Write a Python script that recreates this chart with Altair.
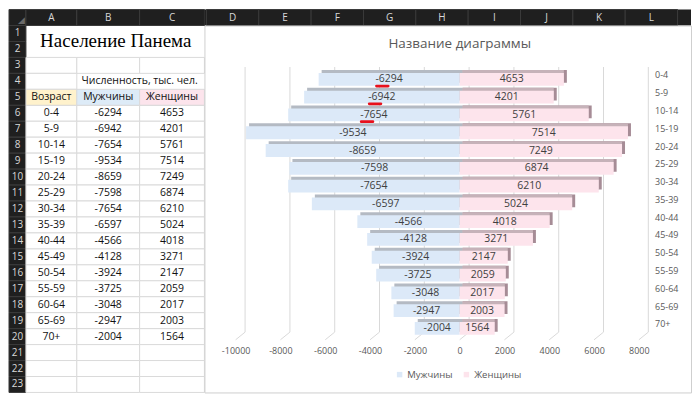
import altair as alt
import pandas as pd

# ---------------- data ----------------
ages = ["0-4", "5-9", "10-14", "15-19", "20-24", "25-29", "30-34", "35-39",
        "40-44", "45-49", "50-54", "55-59", "60-64", "65-69", "70+"]
men = [-6294, -6942, -7654, -9534, -8659, -7598, -7654, -6597,
       -4566, -4128, -3924, -3725, -3048, -2947, -2004]
women = [4653, 4201, 5761, 7514, 7249, 6874, 6210, 5024,
         4018, 3271, 2147, 2059, 2017, 2003, 1564]
series = ["Мужчины", "Женщины"]
x_ticks = [-10000, -8000, -6000, -4000, -2000, 0, 2000, 4000, 6000, 8000]
underlined_ages = ["0-4", "5-9", "10-14"]
sheet_title = "Население Панема"
units_caption = "Численность, тыс. чел."
age_header = "Возраст"
chart_title = "Название диаграммы"
left_letters = ["A", "B", "C"]
right_letters = ["D", "E", "F", "G", "H", "I", "J", "K", "L"]
n_rows = 23
first_data_row = 6

# ---------------- style ----------------
FONT = "Open Sans"
HDR = "#1f1f1f"
HDR_LINE = "#3a3a3a"
HDR_TEXT = "#d8d8d8"
GRID = "#dadada"
INK = "#111111"
CH_TEXT = "#595959"
TOTAL_H = 384
HDR_H = 16
ROWNUM_W = 17
COL_W = {"A": 51, "B": 63, "C": 65}
CHART_W = 684 - ROWNUM_W - sum(COL_W.values())
CHART_H = TOTAL_H - HDR_H

row_keys = ["h"] + [str(i) for i in range(1, n_rows + 1)]
row_y = alt.Y("row:N", scale=alt.Scale(domain=row_keys, paddingInner=0, paddingOuter=0), axis=None)
data_rows = [str(first_data_row + i) for i in range(len(ages))]


def sheet_column(letter, w, blank_rows, head_text, head_fill, values, extra=()):
    hdr = alt.Chart(pd.DataFrame({"row": ["h"], "t": [letter]}))
    cells = [r for r in row_keys[3:] if r not in blank_rows and r != "5"]
    layers = [
        hdr.mark_rect(fill=HDR, stroke=HDR_LINE, strokeWidth=1).encode(
            x=alt.value(0), x2=alt.value(w), y=row_y),
        hdr.mark_text(font=FONT, fontSize=10, color=HDR_TEXT).encode(
            x=alt.value(w / 2), y=row_y, text="t:N"),
        alt.Chart(pd.DataFrame({"row": cells})).mark_rect(
            fill="white", stroke=GRID, strokeWidth=1).encode(
            x=alt.value(0), x2=alt.value(w), y=row_y),
        alt.Chart(pd.DataFrame({"row": ["5"]})).mark_rect(
            fill=head_fill, stroke=GRID, strokeWidth=1).encode(
            x=alt.value(0), x2=alt.value(w), y=row_y),
        alt.Chart(pd.DataFrame({"row": ["5"] + data_rows,
                                "t": [head_text] + [str(v) for v in values]})).mark_text(
            font=FONT, fontSize=10.5, color=INK).encode(
            x=alt.value(w / 2), y=row_y, text="t:N"),
    ]
    layers += list(extra)
    return alt.layer(*layers).properties(width=w, height=TOTAL_H)


# row-number column
rn_df = pd.DataFrame({"row": row_keys, "t": [""] + row_keys[1:]})
rownum = alt.layer(
    alt.Chart(rn_df).mark_rect(fill=HDR, stroke=HDR_LINE, strokeWidth=1).encode(
        x=alt.value(0), x2=alt.value(ROWNUM_W), y=row_y),
    alt.Chart(rn_df).mark_text(font=FONT, fontSize=10, color=HDR_TEXT).encode(
        x=alt.value(ROWNUM_W / 2), y=row_y, text="t:N"),
    alt.Chart(pd.DataFrame({"t": ["◢"]})).mark_text(
        font="DejaVu Sans", fontSize=9, color="#6a6a6a", align="right", baseline="bottom").encode(
        x=alt.value(ROWNUM_W - 1), y=alt.value(HDR_H - 1), text="t:N"),
).properties(width=ROWNUM_W, height=TOTAL_H)

col_a = sheet_column("A", COL_W["A"], ["1", "2"], age_header, "#fff2cc", ages)
col_b = sheet_column(
    "B", COL_W["B"], ["1", "2", "4"], series[0], "#ddebf7", men,
    extra=[
        alt.Chart(pd.DataFrame({"t": [sheet_title]})).mark_text(
            font="Liberation Serif", fontSize=19, color="#000000").encode(
            x=alt.value(39), y=alt.value(32), text="t:N"),
        alt.Chart(pd.DataFrame({"row": ["4"], "t": [units_caption]})).mark_text(
            font=FONT, fontSize=10.5, color=INK).encode(
            x=alt.value(COL_W["B"]), y=row_y, text="t:N"),
    ])
col_c = sheet_column("C", COL_W["C"], ["1", "2", "4"], series[1], "#fce4ec", women)

# column-letter strip above the chart
strip_x = alt.X("c:N", scale=alt.Scale(domain=right_letters, range=[2, 2 + 52.5 * len(right_letters)],
                                        paddingInner=0, paddingOuter=0), axis=None)
strip_df = pd.DataFrame({"c": right_letters})
strip = alt.layer(
    alt.Chart(strip_df).mark_rect(fill=HDR, stroke=HDR_LINE, strokeWidth=1).encode(
        x=strip_x, y=alt.value(0), y2=alt.value(HDR_H)),
    alt.Chart(strip_df).mark_text(font=FONT, fontSize=10, color=HDR_TEXT).encode(
        x=strip_x, y=alt.value(HDR_H / 2), text="c:N"),
).properties(width=CHART_W, height=HDR_H,
             view=alt.ViewBackground(fill=HDR, strokeWidth=0))

# ---------------- pyramid chart ----------------
x_scale = alt.Scale(domain=[-10000, 8000], range=[31.3, 435.7], nice=False, zero=False)
y_scale = alt.Scale(domain=ages, range=[45.1, 312.7], paddingInner=0.28, paddingOuter=0.14)
x_axis = alt.Axis(values=x_ticks, grid=False, domain=False, ticks=False, labelPadding=0,
                  offset=-46, labelColor=CH_TEXT, labelFontSize=9, labelFont=FONT,
                  labelExpr="'' + datum.value", labelFlush=False, labelOverlap=False, title=None)
y_axis = alt.Axis(orient="right", grid=False, domain=False, ticks=False, labelPadding=0,
                  offset=451.4 - CHART_W, labelOffset=-4, labelColor=CH_TEXT,
                  labelFontSize=9, labelFont=FONT, labelAlign="left", title=None)


def xq(field):
    return alt.X(field, type="quantitative", scale=x_scale, axis=x_axis)


yb = alt.Y("age:N", scale=y_scale, axis=y_axis, sort=ages)

wide = pd.DataFrame({"age": ages, series[0]: men, series[1]: women})
base = alt.Chart(wide).transform_fold(series, as_=["series", "value"]).transform_calculate(
    zero="0", mid="datum.value / 2", label="'' + datum.value")

ticks_df = pd.DataFrame({"t": x_ticks})
grid_v = alt.Chart(ticks_df).mark_rule(color="#d9d9d9", strokeWidth=1, xOffset=9.5).encode(
    x=xq("t"), y=alt.value(41.6), y2=alt.value(307.5))
grid_s = alt.Chart(ticks_df).mark_rule(color="#d9d9d9", strokeWidth=1, xOffset=9.5, x2Offset=0).encode(
    x=xq("t"), x2="t:Q", y=alt.value(307.5), y2=alt.value(315.2))

is_men = alt.datum.series == series[0]
back = base.mark_bar(xOffset=3, x2Offset=3, yOffset=-3).encode(
    x=xq("value"), x2="zero:Q", y=yb,
    fill=alt.condition(is_men, alt.value("#b4bac3"), alt.value("#a68c96")))
top = base.transform_filter(alt.datum.series == series[1]).mark_bar(
    xOffset=0, x2Offset=3, yOffset=-3, fill="#c6b2b9").encode(
    x=xq("value"), x2="zero:Q", y=yb)
front = base.mark_bar().encode(
    x=xq("value"), x2="zero:Q", y=yb,
    color=alt.Color("series:N", scale=alt.Scale(domain=series, range=["#dce9f8", "#fde4ec"]),
                    legend=alt.Legend(orient="none", legendX=191, legendY=361, direction="horizontal",
                                      title=None, symbolType="square", symbolSize=30,
                                      symbolStrokeWidth=0, labelFontSize=9.5, labelColor=CH_TEXT,
                                      labelFont=FONT, columnPadding=9, labelOffset=3)))
labels = base.mark_text(font=FONT, fontSize=10.5, color="#404040").encode(
    x=xq("mid"), y=yb, text="label:N")

under = alt.Chart(pd.DataFrame({"age": ages, "value": men})).transform_filter(
    alt.FieldOneOfPredicate(field="age", oneOf=underlined_ages)).transform_calculate(
    u0="datum.value / 2 - 565", u1="datum.value / 2 - 45").mark_rule(
    color="#e8101c", strokeWidth=2.8, strokeCap="round", yOffset=6.7).encode(
    x=xq("u0"), x2="u1:Q", y=yb)

title = alt.Chart(pd.DataFrame({"t": [chart_title]})).mark_text(
    font=FONT, fontSize=13.5, color=CH_TEXT).encode(
    x=alt.value(256), y=alt.value(18.6), text="t:N")

pyramid = alt.layer(grid_v, grid_s, back, top, front, labels, under, title).properties(
    width=CHART_W, height=CHART_H,
    view=alt.ViewBackground(fill="white", stroke="#cfcfcf", strokeWidth=1))

right = alt.vconcat(strip, pyramid, spacing=0, bounds="flush").resolve_scale(
    x="independent", y="independent")

chart = alt.hconcat(rownum, col_a, col_b, col_c, right, spacing=0, bounds="flush",
                    padding=0, background="white").resolve_scale(
    x="independent", y="independent", color="independent").configure_view(strokeWidth=0)

chart.save("out.html", embed_options={"renderer": "svg", "actions": False})
